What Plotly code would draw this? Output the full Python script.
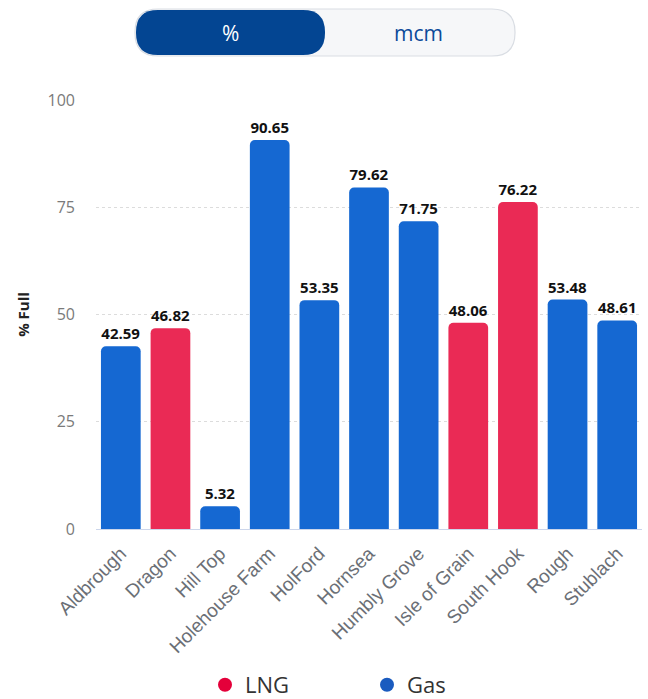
import plotly.graph_objs as go

# storage sites and fill levels (%)
sites = ['Aldbrough', 'Dragon', 'Hill Top', 'Holehouse Farm', 'HolFord', 'Hornsea',
         'Humbly Grove', 'Isle of Grain', 'South Hook', 'Rough', 'Stublach']
pct_full = [42.59, 46.82, 5.32, 90.65, 53.35, 79.62, 71.75, 48.06, 76.22, 53.48, 48.61]
kind = ['Gas', 'LNG', 'Gas', 'Gas', 'Gas', 'Gas', 'Gas', 'LNG', 'LNG', 'Gas', 'Gas']
y_ticks = [0, 25, 50, 75, 100]

W, H = 648, 699
L, R, T, B = 96, 6, 100, 170

BLUE = '#1568d2'
RED = '#ea2a55'
colors = [RED if k == 'LNG' else BLUE for k in kind]


def px(x, y):
    """pixel -> paper coords"""
    return (x - L) / (W - L - R), (H - B - y) / (H - T - B)


def pill(x0, y0, x1, y1, r):
    """rounded rect path in paper coords"""
    def p(x, y):
        a, b = px(x, y)
        return f'{a:.5f},{b:.5f}'
    d = f'M {p(x0 + r, y0)} L {p(x1 - r, y0)} '
    d += f'Q {p(x1, y0)} {p(x1, y0 + r)} L {p(x1, y1 - r)} Q {p(x1, y1)} {p(x1 - r, y1)} '
    d += f'L {p(x0 + r, y1)} Q {p(x0, y1)} {p(x0, y1 - r)} L {p(x0, y0 + r)} Q {p(x0, y0)} {p(x0 + r, y0)} Z'
    return d


fig = go.Figure()
fig.add_trace(go.Bar(
    x=sites, y=pct_full,
    marker=dict(color=colors, cornerradius=5, line=dict(width=0)),
    text=[f'{v:.2f}' for v in pct_full],
    textposition='outside',
    textfont=dict(family='Open Sans', size=15, color='#111111', weight='bold'),
    cliponaxis=False,
    showlegend=False))

for name, c in [('LNG', '#e4003a'), ('Gas', '#1a5bbf')]:
    fig.add_trace(go.Scatter(
        x=[None], y=[None], mode='markers', name=name,
        marker=dict(size=14, color=c)))

# toggle buttons
fig.add_shape(type='path', xref='paper', yref='paper',
              path=pill(135, 9, 515, 56, 23),
              fillcolor='#f6f7f9', line=dict(color='#d9dde3', width=1.2), layer='above')
fig.add_shape(type='path', xref='paper', yref='paper',
              path=pill(136, 10, 325, 55, 22),
              fillcolor='#034592', line=dict(width=0), layer='above')
for label, cx, col in [('%', 230, 'white'), ('mcm', 418, '#0b4a9a')]:
    ax, ay = px(cx, 33)
    fig.add_annotation(x=ax, y=ay, xref='paper', yref='paper', text=label,
                       xanchor='center', yanchor='middle',
                       showarrow=False, font=dict(family='Open Sans', size=21, color=col))

lx, ly = px(205, 685)
fig.update_layout(
    width=W, height=H,
    margin=dict(l=L, r=R, t=T, b=B, autoexpand=False),
    plot_bgcolor='white', paper_bgcolor='white',
    font=dict(family='Open Sans'),
    bargap=0.2,
    yaxis=dict(range=[0, 100], tickvals=y_ticks, showgrid=True,
               gridcolor='#dcdcdc', griddash='dot', gridwidth=1,
               zeroline=False, ticks='', ticklabelstandoff=20,
               tickfont=dict(size=16, color='#7a7a7a'),
               title=dict(text='% Full', standoff=14,
                          font=dict(size=15, color='#222222', weight='bold'))),
    xaxis=dict(tickangle=-45, showline=True, linecolor='#ccd6eb', linewidth=1,
               ticks='', ticklabelstandoff=5,
               tickfont=dict(family='Liberation Sans', size=19, color='#6b6f76')),
    legend=dict(orientation='h', x=lx, xanchor='left', y=ly, yanchor='middle',
                font=dict(size=22, color='#333333'),
                entrywidth=117, entrywidthmode='pixels'),
)

fig.write_html('out.html', config={'displayModeBar': False},
               post_script="document.body.style.margin='0';")
